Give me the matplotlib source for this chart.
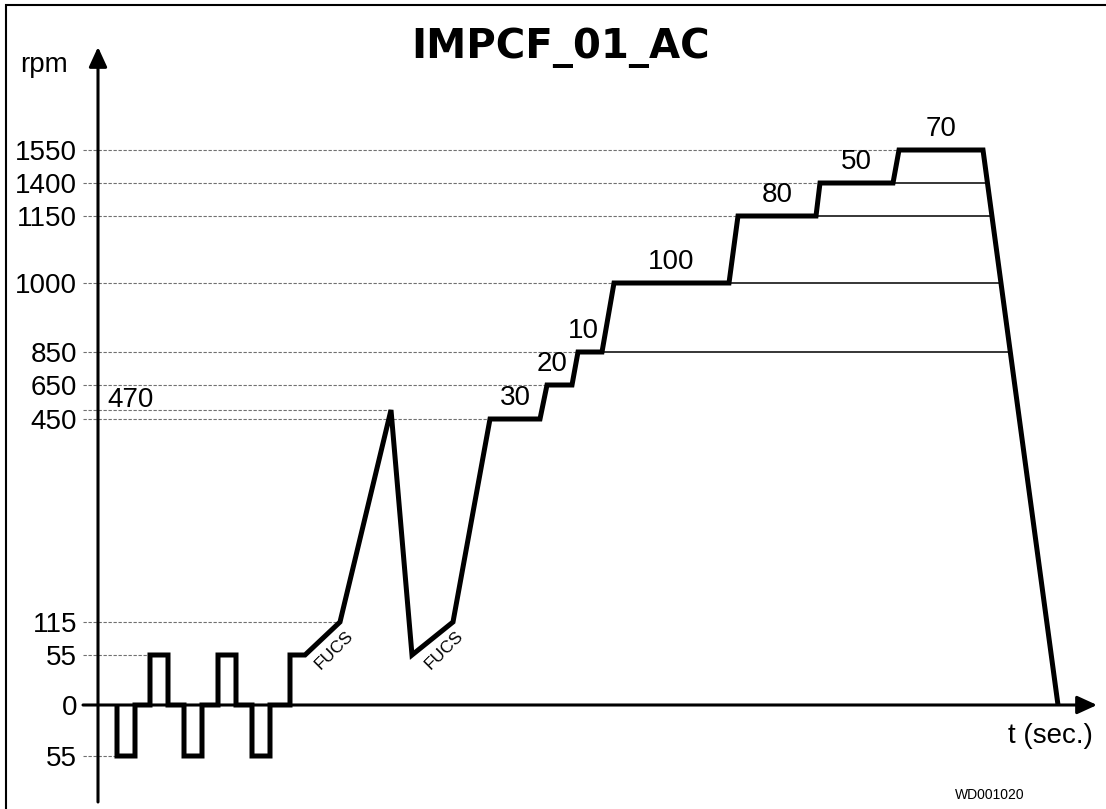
import matplotlib
matplotlib.use("Agg")
import matplotlib.pyplot as plt
from matplotlib.patches import Rectangle
import numpy as np

# speed profile (time in arbitrary units, speed in rpm)
t = [19, 19, 37, 37, 52, 52, 70, 70, 86, 86, 104, 104, 120, 120, 138, 138,
     154, 154, 172, 172, 192, 192, 207, 242, 293, 314, 355, 392, 442, 449,
     474, 480, 504, 516, 631, 640, 718, 722, 795, 801, 885, 960]
rpm = [0, -55, -55, 0, 0, 55, 55, 0, 0, -55, -55, 0, 0, 55, 55, 0,
       0, -55, -55, 0, 0, 55, 55, 115, 470, 55, 115, 450, 450, 650,
       650, 850, 850, 1000, 1000, 1150, 1150, 1400, 1400, 1550, 1550, 0]

tick_rpm = [-55, 0, 55, 115, 450, 650, 850, 1000, 1150, 1400, 1550]
tick_labels = ["55", "0", "55", "115", "450", "650", "850", "1000", "1150", "1400", "1550"]
grid_rpm = [-55, 55, 115, 450, 470, 650, 850, 1000, 1150, 1400, 1550]
ref_rpm = [850, 1000, 1150, 1400]
step_rpm = [450, 650, 850, 1000, 1150, 1400, 1550]
step_labels = ["30", "20", "10", "100", "80", "50", "70"]
fucs_start = [22, 25]  # index of the FUCS ramps in the profile

# schematic (non-linear) rpm axis: breakpoints rpm -> drawing height
scale_rpm = np.array([-55, 0, 55, 115, 450, 470, 650, 850, 1000, 1150, 1400, 1550], float)
scale_pos = np.array([-51, 0, 50, 83, 286, 295, 320, 353, 422, 489, 522, 555], float)


def _pw(x, xs, ys):
    x = np.asarray(x, float)
    shp = x.shape
    x = np.atleast_1d(x)
    out = np.interp(x, xs, ys)
    s_lo = (ys[1] - ys[0]) / (xs[1] - xs[0])
    s_hi = (ys[-1] - ys[-2]) / (xs[-1] - xs[-2])
    lo = x < xs[0]
    hi = x > xs[-1]
    out[lo] = ys[0] + (x[lo] - xs[0]) * s_lo
    out[hi] = ys[-1] + (x[hi] - xs[-1]) * s_hi
    return out.reshape(shp)


def fwd(r):
    return _pw(r, scale_rpm, scale_pos)


def inv(p):
    return _pw(p, scale_pos, scale_rpm)


plt.rcParams['font.family'] = ['Liberation Sans', 'DejaVu Sans']

fig = plt.figure(figsize=(11.06, 8.09), dpi=100)
ax = fig.add_axes([0, 0, 1, 1])
ax.set_yscale('function', functions=(fwd, inv))
ax.set_xlim(-98, 1008)
ax.set_ylim(float(inv(-104)), float(inv(705)))
ax.axis('off')

t_arr = np.array(t, float)
r_arr = np.array(rpm, float)

# dashed guide lines from the axis to the first point at that speed
for r in grid_rpm:
    t_end = t_arr[np.where(r_arr == r)[0][0]]
    ax.plot([-15, t_end], [r, r], color='#707070', lw=0.8,
            linestyle=(0, (3, 1.5)), zorder=1)

# thin solid lines from plateau end to the final ramp down
p_top, p_end = fwd(r_arr[-2]), fwd(r_arr[-1])
for r in ref_rpm:
    t_start = t_arr[np.where(r_arr == r)[0][-1]]
    t_end = t_arr[-2] + (t_arr[-1] - t_arr[-2]) * (p_top - fwd(r)) / (p_top - p_end)
    ax.plot([t_start, t_end], [r, r], color='black', lw=1.1, zorder=2)

# axes with arrows
arrow = dict(arrowstyle='-|>,head_length=1.2,head_width=0.55', lw=2.2, color='black',
             shrinkA=0, shrinkB=0, mutation_scale=10)
ax.annotate('', xy=(999, 0), xytext=(-15, 0), arrowprops=arrow, zorder=3)
ax.annotate('', xy=(0, float(inv(658))), xytext=(0, float(inv(-97))),
            arrowprops=arrow, zorder=3)

ax.plot(t_arr, r_arr, color='black', lw=3.6, solid_joinstyle='miter',
        solid_capstyle='butt', zorder=4)

for r, lbl in zip(tick_rpm, tick_labels):
    ax.annotate(lbl, xy=(0, r), xytext=(-15, -7.2), textcoords='offset points',
                ha='right', va='baseline', fontsize=20)

ax.annotate("470", xy=(0, 470), xytext=(6.5, 2.2), textcoords='offset points',
            ha='left', va='baseline', fontsize=20)

for r, lbl in zip(step_rpm, step_labels):
    idx = np.where(r_arr == r)[0]
    idx = idx[idx > 26]
    t_mid = (t_arr[idx[0]] + t_arr[idx[-1]]) / 2
    dx = -5 if lbl in ("20", "10") else 0
    ax.annotate(lbl, xy=(t_mid, r), xytext=(dx, 6), textcoords='offset points',
                ha='center', va='bottom', fontsize=20)

for i in fucs_start:
    tm = (t_arr[i] + t_arr[i + 1]) / 2
    rm = float(inv((fwd(r_arr[i]) + fwd(r_arr[i + 1])) / 2))
    ax.annotate("FUCS", xy=(tm, rm), xytext=(8.5, -8.5), textcoords='offset points',
                ha='center', va='center', fontsize=12.5, rotation=45)

fig.text(561 / 1106, 1 - 58 / 809, "IMPCF_01_AC", ha='center', va='baseline',
         fontsize=29, fontweight='bold', family='DejaVu Sans')
fig.text(20 / 1106, 1 - 72 / 809, "rpm", ha='left', va='baseline', fontsize=20)
fig.text(1093 / 1106, 1 - 743 / 809, "t (sec.)", ha='right', va='baseline', fontsize=20)
fig.text(990 / 1106, 1 - 795 / 809, "WD001020", ha='center', va='center', fontsize=10)

fig.add_artist(Rectangle((6 / 1106, -0.1), 1.2, 1.1 - 5 / 809, transform=fig.transFigure,
                         fill=False, lw=1.5, edgecolor='black'))

fig.savefig("out.png", dpi=100)
